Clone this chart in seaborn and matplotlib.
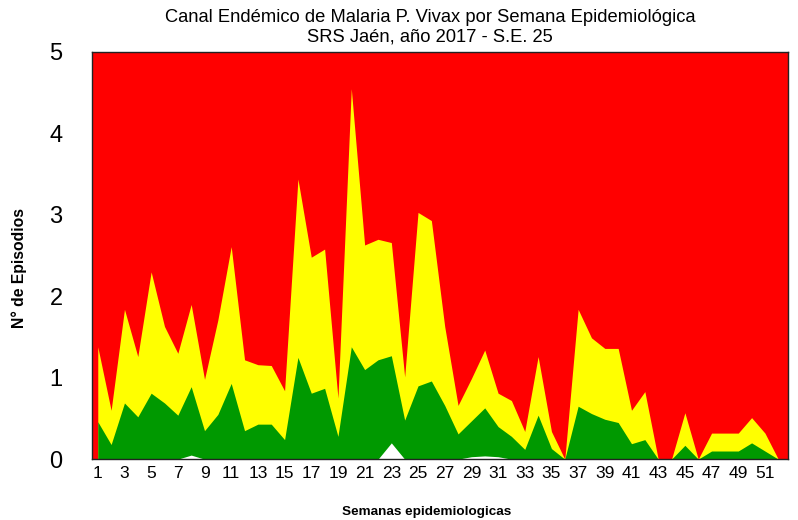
import numpy as np
import seaborn as sns
import matplotlib.pyplot as plt

semanas = list(range(1, 53))

# limite superior de la zona de alarma (amarillo)
alarma = [1.38, 0.60, 1.84, 1.26, 2.30, 1.63, 1.30, 1.90, 0.98, 1.71,
          2.61, 1.22, 1.16, 1.15, 0.84, 3.44, 2.48, 2.58, 0.75, 4.55,
          2.63, 2.70, 2.66, 1.01, 3.03, 2.93, 1.63, 0.66, 0.99, 1.34,
          0.81, 0.72, 0.34, 1.26, 0.34, 0.00, 1.84, 1.49, 1.36, 1.36,
          0.60, 0.83, 0.00, 0.00, 0.57, 0.00, 0.32, 0.32, 0.32, 0.51,
          0.32, 0.00]

# limite de la zona de seguridad (verde)
seguridad = [0.46, 0.18, 0.69, 0.52, 0.81, 0.69, 0.54, 0.89, 0.35, 0.55,
             0.93, 0.35, 0.43, 0.43, 0.24, 1.25, 0.81, 0.87, 0.28, 1.38,
             1.10, 1.22, 1.27, 0.48, 0.90, 0.96, 0.66, 0.31, 0.47, 0.63,
             0.40, 0.28, 0.12, 0.54, 0.13, 0.00, 0.65, 0.56, 0.49, 0.45,
             0.19, 0.24, 0.00, 0.00, 0.17, 0.00, 0.10, 0.10, 0.10, 0.20,
             0.10, 0.00]

# zona de exito (blanco)
exito = [0.00, 0.00, 0.00, 0.00, 0.00, 0.00, 0.00, 0.05, 0.00, 0.00,
         0.00, 0.00, 0.00, 0.00, 0.00, 0.00, 0.00, 0.00, 0.00, 0.00,
         0.00, 0.00, 0.20, 0.00, 0.00, 0.00, 0.00, 0.00, 0.03, 0.04,
         0.03, 0.00, 0.00, 0.00, 0.00, 0.00, 0.00, 0.00, 0.00, 0.00,
         0.00, 0.00, 0.00, 0.00, 0.00, 0.00, 0.00, 0.00, 0.00, 0.00,
         0.00, 0.00]

sns.set_style("white")
plt.rcParams['font.family'] = ['Liberation Sans', 'DejaVu Sans']
plt.rcParams['text.color'] = 'black'
plt.rcParams['axes.labelcolor'] = 'black'
plt.rcParams['xtick.color'] = 'black'
plt.rcParams['ytick.color'] = 'black'

fig = plt.figure(figsize=(7.98, 5.2), dpi=100)
ax = fig.add_axes([0.115, 0.117, 0.872, 0.783])

ax.set_facecolor('#ff0000')
ax.fill_between(semanas, 0, alarma, color='#ffff00', linewidth=0)
ax.fill_between(semanas, 0, seguridad, color='#009900', linewidth=0)
ax.fill_between(semanas, 0, exito, color='white', linewidth=0)

ax.set_xlim(0.55, 52.7)
ax.set_ylim(0, 5)
ax.set_yticks(range(0, 6))
ax.set_xticks(semanas[::2])
ax.tick_params(axis='y', labelsize=17, length=0, pad=21)
ax.tick_params(axis='x', labelsize=12.5, length=0, pad=5)
for s in ax.spines.values():
    s.set_color('#222222')
    s.set_linewidth(1)

ax.text(0.486, 1.06, 'Canal Endémico de Malaria P. Vivax por Semana Epidemiológica\nSRS Jaén, año 2017 - S.E. 25',
        transform=ax.transAxes, ha='center', va='center', fontsize=13.2, linespacing=1.2)
ax.set_xlabel('Semanas epidemiologicas', fontsize=9.7, fontweight='bold')
ax.xaxis.set_label_coords(0.481, -0.115)
ax.set_ylabel('N° de Episodios', fontsize=11.3, fontweight='bold')
ax.yaxis.set_label_coords(-0.093, 0.469)

fig.savefig('out.png', dpi=100)
